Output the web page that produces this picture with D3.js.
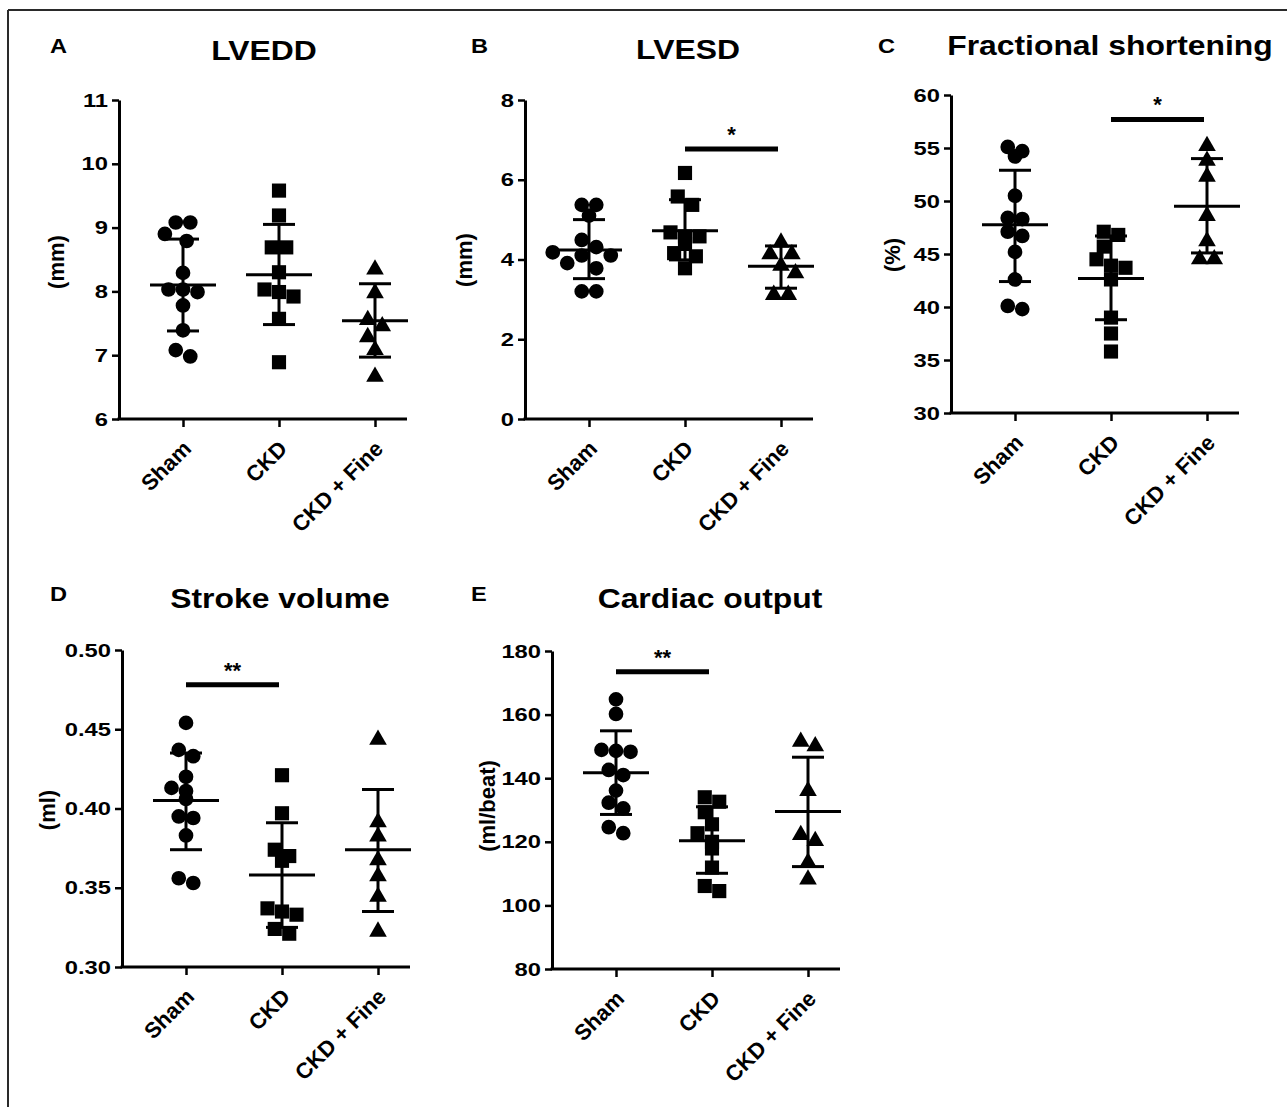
<!DOCTYPE html>
<html><head><meta charset="utf-8">
<script src="https://cdn.jsdelivr.net/npm/d3@7"></script>
<style>
body{margin:0;background:#fff}
svg{display:block}
text{font-family:"Liberation Sans",Arial,sans-serif;font-weight:bold;fill:#000}
</style>
</head><body>
<svg id="c" width="1287" height="1107"></svg>
<script>
const groups = ["Sham", "CKD", "CKD + Fine"];

// A: LVEDD (mm)
const lveddSham = [9.08, 9.08, 8.79, 8.90, 8.29, 8.03, 8.03, 7.99, 7.78, 7.39, 6.98, 7.08];
const lveddCKD  = [9.58, 9.19, 8.69, 8.69, 8.30, 8.03, 7.99, 7.92, 7.57, 6.89];
const lveddFine = [8.36, 7.99, 7.57, 7.47, 7.30, 7.10, 6.68];
const lveddMean  = [8.10, 8.26, 7.54];
const lveddUpper = [8.82, 9.05, 8.12];
const lveddLower = [7.38, 7.48, 6.97];
const lveddTicks = [6, 7, 8, 9, 10, 11];

// B: LVESD (mm)
const lvesdSham = [5.37, 5.37, 5.10, 4.49, 4.31, 4.10, 4.10, 4.18, 3.91, 3.78, 3.20, 3.20];
const lvesdCKD  = [6.17, 5.58, 5.37, 4.68, 4.58, 4.58, 4.39, 4.16, 4.08, 3.78];
const lvesdFine = [4.45, 4.16, 4.16, 3.87, 3.68, 3.14, 3.14];
const lvesdMean  = [4.24, 4.72, 3.83];
const lvesdUpper = [5.00, 5.50, 4.34];
const lvesdLower = [3.52, 3.99, 3.28];
const lvesdTicks = [0, 2, 4, 6, 8];

// C: Fractional shortening (%)
const fsSham = [54.7, 54.2, 55.1, 50.5, 48.3, 48.4, 47.1, 46.7, 45.2, 42.6, 39.8, 40.1];
const fsCKD  = [46.8, 47.1, 45.7, 43.9, 44.5, 43.7, 42.6, 39.0, 37.5, 35.8];
const fsFine = [55.3, 53.9, 52.4, 48.7, 46.3, 44.6, 44.6];
const fsMean  = [47.75, 42.7, 49.5];
const fsUpper = [52.9, 46.7, 54.0];
const fsLower = [42.4, 38.8, 45.1];
const fsTicks = [30, 35, 40, 45, 50, 55, 60];

// D: Stroke volume (ml)
const svSham = [0.454, 0.433, 0.437, 0.420, 0.413, 0.411, 0.406, 0.395, 0.394, 0.383, 0.353, 0.356];
const svCKD  = [0.421, 0.397, 0.374, 0.370, 0.367, 0.337, 0.335, 0.333, 0.324, 0.321];
const svFine = [0.444, 0.392, 0.383, 0.368, 0.358, 0.345, 0.323];
const svMean  = [0.405, 0.358, 0.374];
const svUpper = [0.435, 0.391, 0.412];
const svLower = [0.374, 0.325, 0.335];
const svTicks = [0.30, 0.35, 0.40, 0.45, 0.50];

// E: Cardiac output (ml/beat)
const coSham = [164.8, 160.2, 148.6, 148.3, 148.9, 141.0, 142.6, 136.1, 132.3, 130.5, 122.7, 124.6];
const coCKD  = [132.6, 134.0, 129.3, 125.5, 122.7, 120.0, 117.9, 111.9, 106.1, 104.5];
const coFine = [151.8, 150.4, 136.3, 122.5, 120.6, 113.8, 108.5];
const coMean  = [141.7, 120.3, 129.5];
const coUpper = [154.9, 131.0, 146.6];
const coLower = [128.6, 110.1, 112.2];
const coTicks = [80, 100, 120, 140, 160, 180];

// significance brackets: [fromGroup, toGroup, value, label]
const sigB = [["CKD", "CKD + Fine", 6.77, "*"]];
const sigC = [["CKD", "CKD + Fine", 57.7, "*"]];
const sigD = [["Sham", "CKD", 0.478, "**"]];
const sigE = [["Sham", "CKD", 173.5, "**"]];

const panels = [
  {letter:"A", title:"LVEDD", ylabel:"(mm)", domain:[6,11], ticks:lveddTicks, fmt:d3.format("d"),
   vals:[lveddSham,lveddCKD,lveddFine], mean:lveddMean, upper:lveddUpper, lower:lveddLower, sig:[],
   ax:119, top:100, bottom:419, lx:50, ly:53, tx:264, ty:60, ylx:58, yly:262},
  {letter:"B", title:"LVESD", ylabel:"(mm)", domain:[0,8], ticks:lvesdTicks, fmt:d3.format("d"),
   vals:[lvesdSham,lvesdCKD,lvesdFine], mean:lvesdMean, upper:lvesdUpper, lower:lvesdLower, sig:sigB,
   ax:525, top:100, bottom:419, lx:471, ly:53, tx:688, ty:59, ylx:466, yly:260},
  {letter:"C", title:"Fractional shortening", ylabel:"(%)", domain:[30,60], ticks:fsTicks, fmt:d3.format("d"),
   vals:[fsSham,fsCKD,fsFine], mean:fsMean, upper:fsUpper, lower:fsLower, sig:sigC,
   ax:951, top:95, bottom:413, lx:878, ly:53, tx:1110, ty:55, ylx:894, yly:255},
  {letter:"D", title:"Stroke volume", ylabel:"(ml)", domain:[0.30,0.50], ticks:svTicks, fmt:d3.format(".2f"),
   vals:[svSham,svCKD,svFine], mean:svMean, upper:svUpper, lower:svLower, sig:sigD,
   ax:122, top:650, bottom:967, lx:50, ly:601, tx:280, ty:608, ylx:49, yly:810},
  {letter:"E", title:"Cardiac output", ylabel:"(ml/beat)", domain:[80,180], ticks:coTicks, fmt:d3.format("d"),
   vals:[coSham,coCKD,coFine], mean:coMean, upper:coUpper, lower:coLower, sig:sigE,
   ax:552, top:651, bottom:969, lx:471, ly:601, tx:710, ty:608, ylx:489, yly:806}
];

const svg = d3.select("#c");
// outer frame (top and left edges visible)
svg.append("line").attr("x1",8).attr("y1",10).attr("x2",1287).attr("y2",10).attr("stroke","#2a2a2a").attr("stroke-width",2);
svg.append("line").attr("x1",8).attr("y1",10).attr("x2",8).attr("y2",1107).attr("stroke","#2a2a2a").attr("stroke-width",2);

const D = 14.5; // marker diameter
const symbols = [d3.symbolCircle, d3.symbolSquare, d3.symbolTriangle];
const symSize = [170, 200, 135];
const TXT_STRETCH = 1.18;
const TICK_STRETCH = 1.25;

function swarm(values, y) {
  const pts = values.map(v => ({v, py: y(v)})).sort((a,b) => a.py - b.py);
  const rows = [];
  pts.forEach(p => {
    const r = rows[rows.length-1];
    if (r && p.py - r[0].py < D*0.6) r.push(p); else rows.push([p]);
  });
  const placed = [];
  rows.forEach(r => {
    const n = r.length;
    let best = null;
    outer:
    for (const sp of [1, 1.5, 2, 2.5]) {
      for (const c of [0, D/2, -D/2]) {
        const xs = r.map((p,i) => c + (i - (n-1)/2) * D * sp);
        const ok = r.every((p,i) => placed.every(q => Math.hypot(q.dx - xs[i], q.py - p.py) >= D*0.95));
        if (ok) { best = xs; break outer; }
      }
    }
    if (!best) best = r.map((p,i) => (i - (n-1)/2) * D);
    r.forEach((p,i) => { p.dx = best[i]; placed.push(p); });
  });
  return placed;
}

panels.forEach(p => {
  const g = svg.append("g");
  const y = d3.scaleLinear().domain(p.domain).range([p.bottom, p.top]);
  const x = d3.scalePoint().domain(groups).range([p.ax + 64, p.ax + 256]);

  // letter & title
  g.append("text").attr("transform", `translate(${p.lx},${p.ly}) scale(${TXT_STRETCH},1)`)
    .attr("font-size", 20).text(p.letter);
  g.append("text").attr("transform", `translate(${p.tx},${p.ty}) scale(${TXT_STRETCH},1)`)
    .attr("font-size", 27).attr("text-anchor","middle").text(p.title);

  // y axis
  const ya = g.append("g").attr("transform", `translate(${p.ax},0)`)
    .call(d3.axisLeft(y).tickValues(p.ticks).tickFormat(p.fmt).tickSize(7).tickSizeOuter(0).tickPadding(4));
  ya.select(".domain").attr("stroke","#000").attr("stroke-width",3);
  ya.selectAll(".tick line").attr("stroke","#000").attr("stroke-width",2.5);
  ya.selectAll(".tick text").attr("font-size",19).attr("font-family",null).attr("fill","#000")
    .attr("x", -11 / TICK_STRETCH).attr("transform", `scale(${TICK_STRETCH},1)`);

  // y label
  g.append("text").attr("transform", `translate(${p.ylx},${p.yly}) rotate(-90)`)
    .attr("text-anchor","middle").attr("dominant-baseline","middle").attr("font-size",22).text(p.ylabel);

  // x axis
  const xa = g.append("g").attr("transform", `translate(0,${p.bottom})`)
    .call(d3.axisBottom(x).tickSize(8).tickSizeOuter(0));
  xa.select(".domain").remove();
  xa.selectAll(".tick line").attr("stroke","#000").attr("stroke-width",2.5);
  xa.selectAll(".tick text").attr("font-size",22).attr("font-family",null).attr("fill","#000")
    .attr("x",0).attr("y",0).attr("dy",0)
    .attr("text-anchor","end").attr("transform","translate(9,31) rotate(-45)");
  g.append("line").attr("x1", p.ax - 1.5).attr("x2", p.ax + 288).attr("y1", p.bottom).attr("y2", p.bottom)
    .attr("stroke","#000").attr("stroke-width",3);

  // points
  p.vals.forEach((vals, gi) => {
    const cx = x(groups[gi]);
    const pts = swarm(vals, y);
    g.append("g").selectAll("path").data(pts).join("path")
      .attr("d", d3.symbol().type(symbols[gi]).size(symSize[gi]))
      .attr("transform", d => `translate(${cx + d.dx},${d.py + (gi===2 ? 1 : 0)})`)
      .attr("fill","#000");
  });

  // mean and SD
  groups.forEach((gname, gi) => {
    const cx = x(gname);
    const s = g.append("g").attr("stroke","#000").attr("stroke-width",3);
    s.append("line").attr("x1",cx).attr("x2",cx).attr("y1",y(p.lower[gi])).attr("y2",y(p.upper[gi]));
    s.append("line").attr("x1",cx-33).attr("x2",cx+33).attr("y1",y(p.mean[gi])).attr("y2",y(p.mean[gi]));
    s.append("line").attr("x1",cx-16).attr("x2",cx+16).attr("y1",y(p.upper[gi])).attr("y2",y(p.upper[gi]));
    s.append("line").attr("x1",cx-16).attr("x2",cx+16).attr("y1",y(p.lower[gi])).attr("y2",y(p.lower[gi]));
  });

  // significance
  p.sig.forEach(([a, b, v, lab]) => {
    const x1 = x(a), x2 = x(b) - 3, yy = y(v);
    g.append("line").attr("x1",x1).attr("x2",x2).attr("y1",yy).attr("y2",yy).attr("stroke","#000").attr("stroke-width",5);
    g.append("text").attr("x",(x1+x2)/2).attr("y",yy-7).attr("text-anchor","middle").attr("font-size",22).text(lab);
  });
});
</script>
</body></html>
